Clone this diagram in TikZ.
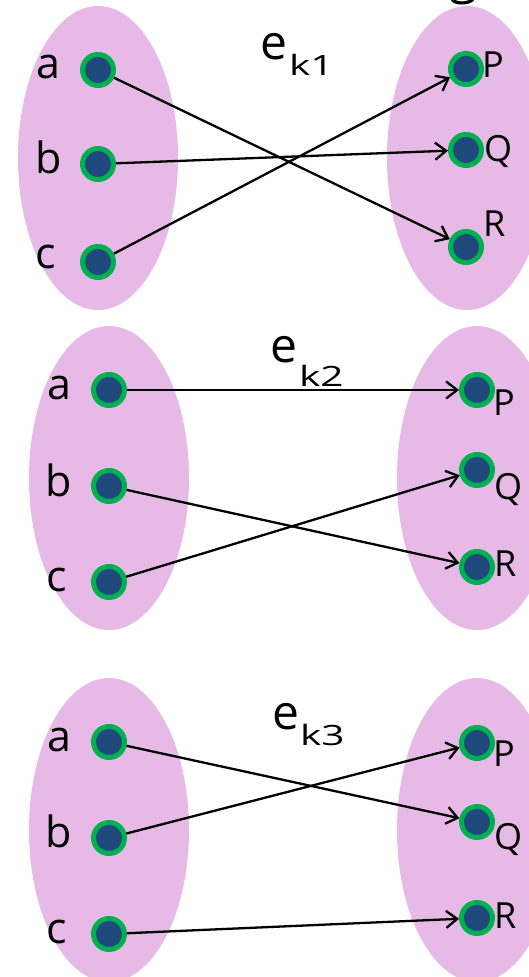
\documentclass[tikz,border=0pt]{standalone}
\usepackage{fontspec}
\setmainfont{Open Sans}
\usetikzlibrary{arrows.meta}
\definecolor{setfill}{RGB}{230,185,230}
\definecolor{ptgreen}{RGB}{0,176,80}
\definecolor{ptblue}{RGB}{31,73,125}
\newcommand{\mysubk}[2]{\raisebox{-#1}{\scalebox{1.45}[1]{\fontsize{28}{34}\selectfont k#2}}}
\begin{document}
\begin{tikzpicture}[x=1pt,y=-1pt,
  setshape/.style={fill=setfill},
  pt/.style={circle, fill=ptblue, draw=ptgreen, line width=5pt, minimum size=31pt, inner sep=0pt},
  lab/.style={anchor=base west, inner sep=0pt, font=\fontsize{43}{52}\selectfont},
  rlab/.style={anchor=base west, inner sep=0pt, font=\fontsize{36}{44}\selectfont},
  ttl/.style={anchor=base west, inner sep=0pt, font=\fontsize{48}{58}\selectfont},
  map/.style={line width=2.3pt, -{Straight Barb[length=11pt,width=17pt]}}]
\useasboundingbox (0,0) rectangle (529,977);
\begin{scope}
\clip (0,0) rectangle (529,977);
\node[inner sep=0pt, anchor=base west, font=\fontsize{52}{62}\selectfont] (g) at (449,-7) {g};
% sets
\fill[setshape] (98,158) ellipse [x radius=80pt, y radius=152pt];
\fill[setshape] (467,158) ellipse [x radius=80pt, y radius=152pt];
\fill[setshape] (109,478) ellipse [x radius=80pt, y radius=152pt];
\fill[setshape] (477,478) ellipse [x radius=80pt, y radius=152pt];
\fill[setshape] (109,830) ellipse [x radius=80pt, y radius=152pt];
\fill[setshape] (477,830) ellipse [x radius=80pt, y radius=152pt];
% titles
\node[ttl] (t1) at (260,59) {e\kern2pt\mysubk{16pt}{1}};
\node[ttl] (t2) at (270,362) {e\kern2pt\mysubk{24pt}{2}};
\node[ttl] (t3) at (272,729) {e\kern1pt\mysubk{16pt}{3}};
% panel 1
\node[pt] (a1) at (98,70) {};
\node[pt] (b1) at (98,164) {};
\node[pt] (c1) at (98,262) {};
\node[pt] (P1) at (466,69) {};
\node[pt] (Q1) at (466,150) {};
\node[pt] (R1) at (466,247) {};
\node[lab] (la1) at (36,78) {a};
\node[lab] (lb1) at (35,173) {b};
\node[lab] (lc1) at (35,268) {c};
\node[rlab] (lP1) at (482,77) {P};
\node[rlab] (lQ1) at (484,161) {Q};
\node[rlab] (lR1) at (483,236) {R};
\draw[map] (a1) -- (R1);
\draw[map] (b1) -- (Q1);
\draw[map] (c1) -- (P1);
% panel 2
\node[pt] (a2) at (109,390) {};
\node[pt] (b2) at (109,486) {};
\node[pt] (c2) at (109,582) {};
\node[pt] (P2) at (477,390) {};
\node[pt] (Q2) at (477,470) {};
\node[pt] (R2) at (477,567) {};
\node[lab] (la2) at (47,399) {a};
\node[lab] (lb2) at (45,496) {b};
\node[lab] (lc2) at (46,591) {c};
\node[rlab] (lP2) at (493,415) {P};
\node[rlab] (lQ2) at (494,499) {Q};
\node[rlab] (lR2) at (494,576) {R};
\draw[map] (a2) -- (P2);
\draw[map] (b2) -- (R2);
\draw[map] (c2) -- (Q2);
% panel 3
\node[pt] (a3) at (109,742) {};
\node[pt] (b3) at (109,838) {};
\node[pt] (c3) at (109,934) {};
\node[pt] (P3) at (477,743) {};
\node[pt] (Q3) at (477,822) {};
\node[pt] (R3) at (477,918) {};
\node[lab] (la3) at (47,751) {a};
\node[lab] (lb3) at (45,847) {b};
\node[lab] (lc3) at (46,943) {c};
\node[rlab] (lP3) at (493,766) {P};
\node[rlab] (lQ3) at (494,849) {Q};
\node[rlab] (lR3) at (494,928) {R};
\draw[map] (a3) -- (Q3);
\draw[map] (b3) -- (P3);
\draw[map] (c3) -- (R3);
\end{scope}
\end{tikzpicture}
\end{document}
